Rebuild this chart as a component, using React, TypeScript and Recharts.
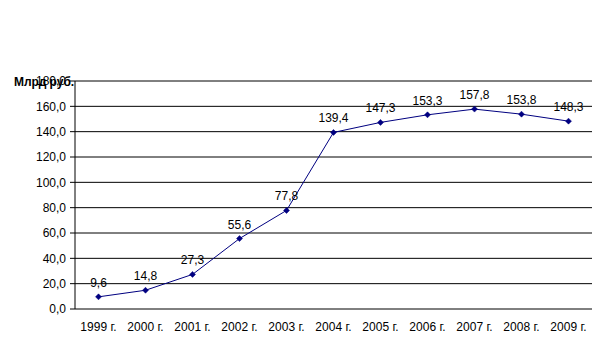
import React from "react";
import { LineChart, Line, XAxis, YAxis, CartesianGrid, ReferenceLine, LabelList } from "recharts";

const years = ["1999 г.", "2000 г.", "2001 г.", "2002 г.", "2003 г.", "2004 г.", "2005 г.", "2006 г.", "2007 г.", "2008 г.", "2009 г."];
const values = [9.6, 14.8, 27.3, 55.6, 77.8, 139.4, 147.3, 153.3, 157.8, 153.8, 148.3];
const yTicks = [0, 20, 40, 60, 80, 100, 120, 140, 160, 180];
const boundaryTicks = [0, 1, 2, 3, 4, 5, 6, 7, 8, 9, 10, 11];

const data = years.map((y, i) => ({ year: y, value: values[i] }));

const fmt = (v: number) => v.toFixed(1).replace(".", ",");
const FONT = "Arial, 'Liberation Sans', sans-serif";

const Diamond = (props: any) => {
  const { cx, cy } = props;
  if (cx == null || cy == null) return null;
  return <polygon points={`${cx},${cy - 3} ${cx + 3},${cy} ${cx},${cy + 3} ${cx - 3},${cy}`} fill="#000080" stroke="#000080" strokeWidth={0.5} />;
};

export default function App() {
  return (
    <div style={{ position: "absolute", left: 0, top: 0, width: 609, height: 352, background: "#fff" }}>
      <LineChart width={609} height={352} data={data} margin={{ top: 81, right: 17, bottom: 13, left: 0 }}>
        <CartesianGrid vertical={false} stroke="#000" strokeWidth={1} />
        <XAxis
          xAxisId="cat"
          dataKey="year"
          scale="band"
          interval={0}
          tickLine={false}
          axisLine={false}
          tickSize={0}
          tickMargin={13}
          height={30}
          tick={{ fill: "#000", fontSize: 12, fontFamily: FONT }}
        />
        <XAxis
          xAxisId="b"
          type="number"
          domain={[0, 11]}
          ticks={boundaryTicks}
          allowDataOverflow
          height={0}
          tick={false}
          tickSize={5}
          tickLine={{ stroke: "#000" }}
          axisLine={{ stroke: "#808080", strokeWidth: 1.5 }}
        />
        <YAxis
          domain={[0, 180]}
          ticks={yTicks}
          width={75}
          interval={0}
          tickFormatter={fmt}
          tickSize={5}
          tickMargin={4}
          tickLine={{ stroke: "#000" }}
          axisLine={{ stroke: "#000" }}
          tick={{ fill: "#000", fontSize: 12, fontFamily: FONT }}
        />
        <ReferenceLine xAxisId="b" y={180} stroke="#808080" strokeWidth={1} />
        <ReferenceLine xAxisId="b" x={11} stroke="#808080" strokeWidth={1.5} />
        <Line
          xAxisId="cat"
          type="linear"
          dataKey="value"
          stroke="#000080"
          strokeWidth={1}
          dot={<Diamond />}
          activeDot={false}
          isAnimationActive={false}
        >
          <LabelList dataKey="value" position="top" offset={10} formatter={(v: any) => fmt(Number(v))} style={{ fill: "#000", fontSize: 12, fontFamily: FONT }} />
        </Line>
      </LineChart>
      <div style={{ position: "absolute", left: 14, top: 75, fontFamily: FONT, fontSize: 12, fontWeight: "bold", color: "#000", whiteSpace: "nowrap" }}>
        Млрд руб.
      </div>
    </div>
  );
}
